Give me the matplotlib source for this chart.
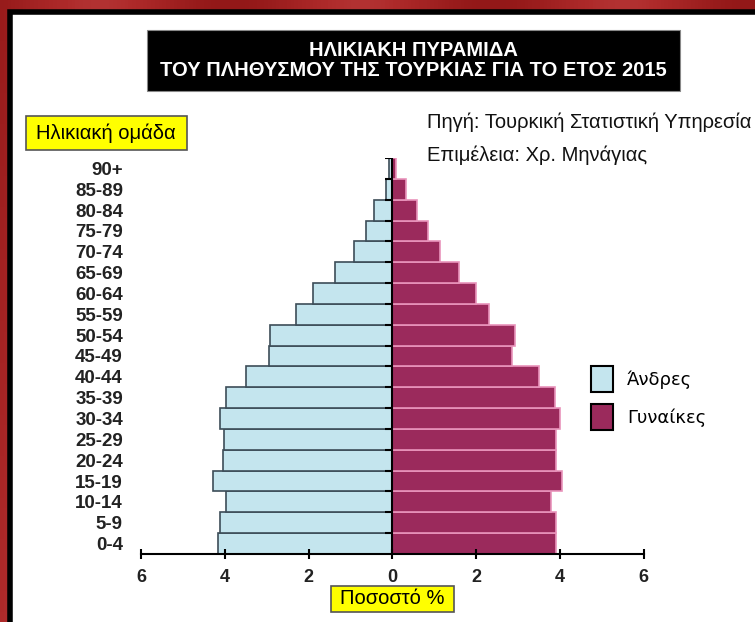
import numpy as np
import matplotlib
matplotlib.use('Agg')
import matplotlib.pyplot as plt
from matplotlib.patches import Rectangle, Patch
from matplotlib.colors import LinearSegmentedColormap

plt.rcParams['font.family'] = ['Liberation Sans', 'DejaVu Sans']

# ηλικιακές ομάδες και ποσοστά (%) ανά φύλο
groups = ['0-4', '5-9', '10-14', '15-19', '20-24', '25-29', '30-34', '35-39',
          '40-44', '45-49', '50-54', '55-59', '60-64', '65-69', '70-74',
          '75-79', '80-84', '85-89', '90+']
men = [4.16, 4.12, 3.97, 4.28, 4.05, 4.02, 4.12, 3.96, 3.50, 2.94,
       2.93, 2.31, 1.89, 1.37, 0.92, 0.63, 0.44, 0.15, 0.07]
women = [3.92, 3.92, 3.78, 4.04, 3.92, 3.91, 4.00, 3.89, 3.51, 2.86,
         2.94, 2.32, 2.00, 1.59, 1.14, 0.85, 0.60, 0.32, 0.10]
xticks = [-6, -4, -2, 0, 2, 4, 6]

W, H = 755, 622
fig = plt.figure(figsize=(W / 100, H / 100), dpi=100)

# κόκκινο φόντο με λευκό πλαίσιο
bg = fig.add_axes([0, 0, 1, 1], zorder=-10)
reds = LinearSegmentedColormap.from_list('bgred', ['#931818', '#ae2a2a', '#c65454'])
img = np.outer(np.linspace(0.3, 1, 60), np.ones(200)) * 0.5 + \
      np.outer(np.ones(60), np.sin(np.linspace(0.4, 3 * np.pi, 200)) ** 2) * 0.5
bg.imshow(img, cmap=reds, extent=[0, 1, 0, 1], aspect='auto')
bg.set_axis_off()
fig.patches.append(Rectangle((10 / W, -0.1), 1.2, 1.1 - 12 / H, transform=fig.transFigure,
                             facecolor='white', edgecolor='black', lw=4, zorder=-5))

y = np.arange(len(groups))
ax = fig.add_axes([136.8 / W, 1 - 554 / H, 511 / W, 396 / H])
ax.barh(y, [-v for v in men], height=1.0, color='#c4e5ee', edgecolor='#3d4d58', lw=1.2)
ax.barh(y, women, height=1.0, color='#9b2a5c', edgecolor='#e994bb', lw=1.2)
ax.axvline(0, color='black', lw=1.5)
bounds = np.arange(len(groups)) + 0.5
ax.plot(np.zeros(len(bounds)), bounds, ls='none', marker=0, ms=5, mew=1.5, color='black')

ax.set_xlim(-6.1, 6.1)
ax.set_ylim(-0.5, len(groups) - 0.5)
ax.set_xticks(xticks)
ax.set_xticklabels([str(abs(t)) for t in xticks], fontsize=13, fontweight='bold', color='#222222')
ax.set_yticks(y)
ax.set_yticklabels(groups, fontsize=13.5, fontweight='bold', color='#222222')
ax.tick_params(axis='y', length=0, pad=10)
ax.tick_params(axis='x', direction='inout', length=7, width=1.5, pad=7)
for s in ['top', 'right', 'left']:
    ax.spines[s].set_visible(False)
ax.spines['bottom'].set_bounds(-6, 6)
ax.spines['bottom'].set_linewidth(1.5)
ax.patch.set_alpha(0)

# τίτλος
fig.patches.append(Rectangle((147 / W, 1 - 91 / H), 533 / W, 61 / H, transform=fig.transFigure,
                             facecolor='black', edgecolor='#888888', lw=0.8))
fig.text(413 / W, 1 - 51 / H, 'ΗΛΙΚΙΑΚΗ ΠΥΡΑΜΙΔΑ', ha='center', va='center',
         color='white', fontsize=14.5, fontweight='bold')
fig.text(413 / W, 1 - 71 / H, 'ΤΟΥ ΠΛΗΘΥΣΜΟΥ ΤΗΣ ΤΟΥΡΚΙΑΣ ΓΙΑ ΤΟ ΕΤΟΣ 2015', ha='center',
         va='center', color='white', fontsize=14.5, fontweight='bold')

fig.text(427 / W, 1 - 122 / H, 'Πηγή: Τουρκική Στατιστική Υπηρεσία', ha='left', va='center',
         fontsize=14.5, color='#111111')
fig.text(427 / W, 1 - 155 / H, 'Επιμέλεια: Χρ. Μηνάγιας', ha='left', va='center',
         fontsize=14.5, color='#111111')

# κίτρινα πλαίσια
fig.patches.append(Rectangle((26 / W, 1 - 150 / H), 161 / W, 34 / H, transform=fig.transFigure,
                             facecolor='#ffff00', edgecolor='#555555', lw=1.2))
fig.text(106 / W, 1 - 133 / H, 'Ηλικιακή ομάδα', ha='center', va='center', fontsize=14.5)
fig.patches.append(Rectangle((331 / W, 1 - 612 / H), 123 / W, 26 / H, transform=fig.transFigure,
                             facecolor='#ffff00', edgecolor='#555555', lw=1.2))
fig.text(392 / W, 1 - 599 / H, 'Ποσοστό %', ha='center', va='center', fontsize=14.5)

handles = [Patch(facecolor='#c4e5ee', edgecolor='black', lw=1.5, label='Άνδρες'),
           Patch(facecolor='#9b2a5c', edgecolor='black', lw=1.5, label='Γυναίκες')]
fig.legend(handles=handles, loc='upper left', bbox_to_anchor=(591 / W, 1 - 366 / H),
           frameon=False, borderpad=0, borderaxespad=0,
           handlelength=1.2, handleheight=1.85, handletextpad=0.8, labelspacing=0.65,
           prop={'family': ['DejaVu Sans'], 'size': 13})

fig.savefig('out.png', dpi=100)
